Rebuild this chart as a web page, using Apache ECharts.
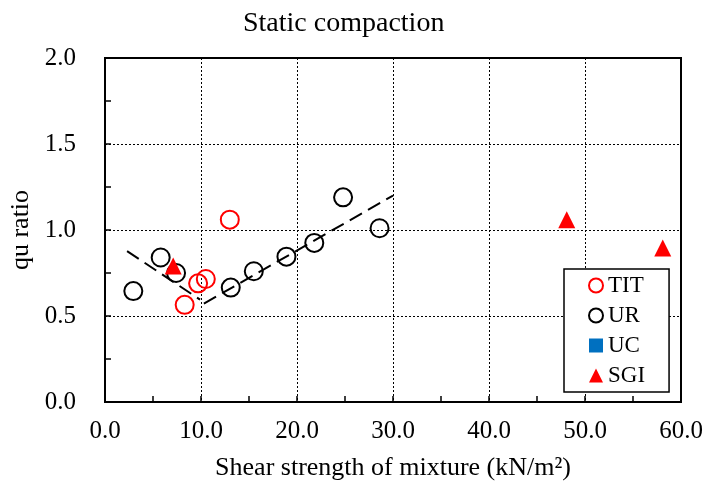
<!DOCTYPE html>
<html>
<head>
    <meta charset="utf-8">
    <title>Static compaction</title>
    <script src="https://cdn.jsdelivr.net/npm/echarts@6.0.0/dist/echarts.min.js"></script>
    <style>
        body { margin: 0; background: #fff; }
    </style>
</head>
<body>
    <div id="main" style="width:706px; height:491px;"></div>
    <script>
        // values
        var titX = [13.0, 8.3, 9.7, 10.5]
        var titY = [1.06, 0.565, 0.69, 0.715]
        var urX = [2.95, 5.8, 7.4, 13.1, 15.5, 18.9, 21.8, 24.8, 28.6]
        var urY = [0.645, 0.84, 0.75, 0.665, 0.76, 0.845, 0.925, 1.19, 1.01]
        var ucX = []
        var ucY = []
        var sgiX = [7.1, 48.1, 58.1]
        var sgiY = [0.79, 1.06, 0.895]
        var trend1X = [2.3, 9.9]
        var trend1Y = [0.877, 0.595]
        var trend2X = [10.3, 30.0]
        var trend2Y = [0.572, 1.2]

        var font = 'Liberation Serif'

        var pairs = function(xs, ys) {
            var out = []
            for (var i = 0; i < xs.length; i++) {
                out.push([xs[i], ys[i]])
            }
            return out
        }

        var element = document.querySelector('#main')
        var myChart = echarts.init(element)

        var axisCommon = {
            axisLine: { show: true, lineStyle: { color: '#000', width: 2 } },
            axisTick: { show: true, inside: true, length: 6, lineStyle: { color: '#000', width: 1.5 } },
            minorTick: { show: true, splitNumber: 2, length: 6, lineStyle: { color: '#000', width: 1.5 } },
            splitLine: { show: true, lineStyle: { color: '#000', type: [2, 2], width: 1 } },
            nameTextStyle: { color: '#000', fontFamily: font, fontSize: 26 }
        }

        var option = {
            animation: false,
            backgroundColor: '#fff',
            title: {
                text: 'Static compaction',
                left: 238,
                top: 5,
                textStyle: { color: '#000', fontFamily: font, fontSize: 28, fontWeight: 'normal' }
            },
            grid: {
                left: 105, top: 58, width: 576, height: 344,
                show: true, borderColor: '#000', borderWidth: 2,
                outerBoundsMode: 'none'
            },
            legend: {
                orient: 'vertical',
                left: 564,
                top: 269,
                padding: [5, 24, 5, 24],
                itemGap: 7,
                itemWidth: 14,
                itemHeight: 14,
                borderColor: '#000',
                borderWidth: 1.5,
                backgroundColor: '#fff',
                textStyle: { color: '#000', fontFamily: font, fontSize: 23 },
                data: [
                    { name: 'TIT', icon: 'circle', itemStyle: { color: 'transparent', borderColor: '#ff0000', borderWidth: 2 } },
                    { name: 'UR', icon: 'circle', itemStyle: { color: 'transparent', borderColor: '#000', borderWidth: 2 } },
                    { name: 'UC', icon: 'rect', itemStyle: { color: '#0070c0' } },
                    { name: 'SGI', icon: 'triangle', itemStyle: { color: '#ff0000' } }
                ]
            },
            xAxis: Object.assign({}, axisCommon, {
                type: 'value',
                min: 0, max: 60, interval: 10,
                name: 'Shear strength of mixture (kN/m²)',
                nameLocation: 'middle',
                nameGap: 53,
                axisLabel: {
                    color: '#000', fontFamily: font, fontSize: 25, margin: 17,
                    formatter: function(v) { return v.toFixed(1) }
                }
            }),
            yAxis: Object.assign({}, axisCommon, {
                type: 'value',
                min: 0, max: 2, interval: 0.5,
                name: 'qu ratio',
                nameLocation: 'middle',
                nameGap: 60,
                axisLabel: {
                    color: '#000', fontFamily: font, fontSize: 25, margin: 29,
                    formatter: function(v) { return v.toFixed(1) }
                }
            }),
            series: [
                {
                    name: 'trend1', type: 'line', data: pairs(trend1X, trend1Y),
                    symbol: 'none', silent: true,
                    lineStyle: { color: '#000', width: 2, type: [14, 7] }
                },
                {
                    name: 'trend2', type: 'line', data: pairs(trend2X, trend2Y),
                    symbol: 'none', silent: true,
                    lineStyle: { color: '#000', width: 2, type: [14, 7] }
                },
                {
                    name: 'TIT', type: 'scatter', data: pairs(titX, titY),
                    symbol: 'circle', symbolSize: 18,
                    itemStyle: { color: 'transparent', borderColor: '#ff0000', borderWidth: 2, opacity: 1 }
                },
                {
                    name: 'UR', type: 'scatter', data: pairs(urX, urY),
                    symbol: 'circle', symbolSize: 18,
                    itemStyle: { color: 'transparent', borderColor: '#000', borderWidth: 2, opacity: 1 }
                },
                {
                    name: 'UC', type: 'scatter', data: pairs(ucX, ucY),
                    symbol: 'rect', symbolSize: 14,
                    itemStyle: { color: '#0070c0', opacity: 1 }
                },
                {
                    name: 'SGI', type: 'scatter', data: pairs(sgiX, sgiY),
                    symbol: 'triangle', symbolSize: 17,
                    itemStyle: { color: '#ff0000', opacity: 1 }
                }
            ]
        }

        myChart.setOption(option)
    </script>
</body>
</html>
